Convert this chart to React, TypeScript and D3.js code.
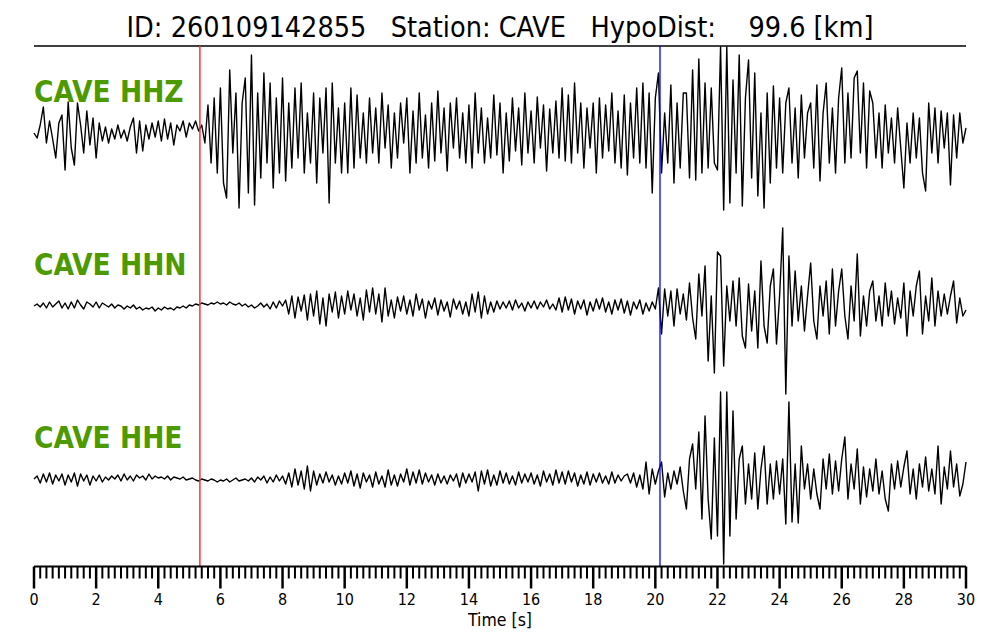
import React from "react";
import * as d3 from "d3";

// ---- data ----
const TITLE = "ID: 260109142855   Station: CAVE   HypoDist:    99.6 [km]";
const STATION = "CAVE";
const CHANNELS = ["HHZ", "HHN", "HHE"];
const SAMPLE_INTERVAL = 0.1; // s
const P_PICK = 5.34; // s
const S_PICK = 20.15; // s
const X_DOMAIN = [0, 30];
const MAJOR_TICKS = [0, 2, 4, 6, 8, 10, 12, 14, 16, 18, 20, 22, 24, 26, 28, 30];
const X_LABEL = "Time [s]";

// amplitudes (counts, normalised), one sample per 0.1 s
const HHZ = [
  0, -5, 8, 26, -10, 12, -6, -25, 10, 18,
  -37, 31, -15, -32, 30, 8, -20, 22, -12, 15,
  -25, 10, -8, 6, -10, 4, -6, 8, -5, 3,
  -8, 6, 15, -20, 12, -18, 8, -6, 10, -4,
  12, -8, 14, -6, 10, -12, 8, 2, 12, -4,
  10, 4, 12, 2, 8, -10, 28, -30, 35, -40,
  45, -50, -65, 63, -20, 40, -75, 30, 55, -60,
  78, -72, 40, -45, 60, -30, 50, -55, 35, -40,
  55, -48, 30, -35, 45, -25, 50, -40, 20, -30,
  40, -50, 35, -20, 45, -70, 50, -30, 25, -40,
  30, -40, 45, -35, 38, -25, 20, -30, 35, -20,
  25, -30, 40, -15, 28, -35, 20, -25, 30, -10,
  35, -40, 22, -30, 40, -25, 18, -35, 30, -28,
  42, -20, 25, -38, 30, -15, 35, -25, 20, -30,
  28, -35, 40, -20, 25, -30, 15, -25, 38, -22,
  30, -40, 20, -28, 35, -18, 25, -32, 40, -20,
  22, -30, 36, -15, 28, -38, 24, -20, 32, -25,
  45, -28, 38, -30, 50, -20, 30, -35, 25, -15,
  30, -40, 35, -25, 28, -18, 40, -30, 22, -35,
  38, -42, 30, -25, 45, -30, 50, -35, 40, -60,
  35, 60, -40, 20, -30, 48, -50, 30, -35, 40,
  40, -45, 63, -47, 74, -40, 50, -35, 45, -30,
  -37, 86, -77, 86, -70, 53, -40, 78, -73, 35,
  73, -45, 60, -63, 20, -75, 40, -50, 47, -35,
  35, -40, 30, 45, -30, 25, -45, 38, -25, 20,
  30, -35, 48, -48, 20, 50, -30, 25, -40, 35,
  65, -30, 40, -25, 55, 62, -20, 50, -35, 42,
  30, -25, 20, -35, 28, -20, 15, -30, 25, -15,
  -55, 10, -30, 20, -25, 15, -40, -58, 30, -20,
  25, -30, 22, -15, 20, -52, 18, -25, 20, -10,
  5,
];

const HHN = [
  0, 2, -1, 3, -2, 4, -1, 2, 5, -2,
  3, -3, 4, -2, 6, 1, -3, 4, 2, -1,
  4, -2, 3, 1, -1, 2, -2, 1, 0, -3,
  0, -2, 1, -3, -1, -4, -2, -3, -1, -5,
  -2, -4, -1, -3, -2, -4, -1, -2, 0, -2,
  1, 0, 2, 1, 3, 2, 1, 3, 2, 4,
  2, 3, 1, 4, 2, 1, 3, 0, 2, -1,
  1, -2, 0, 3, -1, 2, -3, 4, -2, 5,
  0, 6, -8, 10, -12, 9, -5, 11, -14, 12,
  -10, 15, -18, 8, -20, 12, -6, 14, -12, 10,
  -8, 15, -4, 12, -10, 8, -14, 16, -6, 18,
  -8, 12, -16, 18, -10, 6, -12, 9, -5, 10,
  -8, 6, -10, 12, -4, 7, -12, 5, -3, 8,
  -9, 6, -5, 4, -11, 7, -3, 5, -8, 4,
  -10, 12, -6, 14, -12, 10, -8, 4, -6, 5,
  -3, 4, -2, 5, -4, 6, -2, 3, -5, 4,
  -2, 5, -3, 4, -1, 6, -3, 2, -4, 8,
  -6, 9, -4, 7, -8, 5, -3, 6, -9, 4,
  -5, 7, -3, 8, -6, 4, -8, 6, -4, 7,
  -7, 5, -9, 4, -3, 6, -8, 3, -5, 4,
  -3, 18, -28, 17, -10, 15, -20, 17, -8, 12,
  -14, 23, -12, -33, 32, -10, 40, -55, 10, -67,
  54, 50, -60, 20, -15, 25, -20, 28, -30, -42,
  22, -25, 15, -42, 45, -20, -37, 20, 37, -38,
  10, 78, -88, 50, -20, 35, -15, 20, -25, 10,
  43, -15, -33, 20, -10, 25, -28, 37, -20, 15,
  37, -10, -33, 20, -15, 52, -30, 10, -20, 15,
  25, -15, 10, -20, 23, -10, 15, -18, 8, -12,
  23, -30, 15, -10, 20, 35, -28, 10, -15, 28,
  -20, 15, -10, 12, -8, 10, 25, -17, 8, -10,
  -4,
];

const HHE = [
  0, 3, -4, 5, -3, 6, -5, 4, -2, 5,
  -6, 4, -3, 6, -7, 5, -2, 4, -6, 3,
  -2, 4, -3, 2, -1, 3, 0, 4, -2, 5,
  -1, 3, -2, 4, 1, 3, -1, 5, 0, 3,
  1, 2, 0, 3, -1, 2, 1, 0, 2, -1,
  0, 1, -1, -2, 0, -1, -2, 0, -1, -3,
  -1, -2, 0, -3, -1, 1, -2, -1, 0, -2,
  1, -3, 2, -1, 3, -4, 2, -3, 4, -2,
  3, -5, 6, -8, 10, -6, 8, -10, 13, -12,
  8, -6, 5, -4, 7, -3, 4, -6, 3, -5,
  6, -4, 8, -7, 5, -9, 6, -3, 4, -8,
  7, -5, 3, -8, 9, -6, 4, -7, 5, -3,
  10, -6, 7, -4, 9, -5, 6, -3, 4, -6,
  5, -4, 3, -5, 4, -2, 5, -8, 6, -4,
  5, -3, 7, -12, 8, -5, 9, -7, 4, -6,
  8, -4, 6, -5, 3, -6, 7, -4, 5, -3,
  6, -5, 4, -7, 8, -3, 5, -6, 9, -4,
  7, -5, 8, -3, 6, -7, 4, -5, 7, -6,
  5, -3, 6, -4, 3, -5, 7, -4, 4, -2,
  3, 5, -4, 6, -8, 4, -10, 17, -15, 10,
  -5, 8, 17, -18, 6, -10, 8, -5, 12, -12,
  -30, 20, 35, -10, 47, -40, 63, -20, -60, 41,
  -57, 87, -85, 87, -57, 68, -40, 20, 33, -25,
  15, -20, 26, -30, 10, 33, -25, 15, -20, 18,
  -15, 20, -45, 77, -43, 15, -44, 33, -10, 15,
  -20, 10, -15, -30, 20, -10, 25, -15, 18, -12,
  20, 42, -20, 15, -10, 30, -25, 12, -18, 10,
  -12, 20, -15, 8, -20, -32, 15, -10, 18, -8,
  12, 28, -15, 10, -20, 15, -8, 22, -12, 10,
  -15, 33, -25, 12, -10, 28, -8, 15, -17, -5,
  17,
];

const TRACES = [HHZ, HHN, HHE];

// ---- layout ----
const W = 1000;
const H = 640;
const LEFT = 34;
const RIGHT = 966;
const TOP_LINE = 46;
const AXIS_Y = 566.5;
const FONT = "'DejaVu Sans Condensed', 'DejaVu Sans', sans-serif";
const GREEN = "#4c9a00";

export default function App() {
  const x = d3.scaleLinear().domain(X_DOMAIN).range([LEFT, RIGHT]);
  const center = d3.scalePoint<string>().domain(CHANNELS).range([133, 479]);
  const minorTicks = x.ticks(150).filter((t) => Math.abs(t / 2 - Math.round(t / 2)) > 1e-6);

  return (
    <svg
      width={W}
      height={H}
      style={{ position: "absolute", left: 0, top: 0, background: "#fff" }}
      fontFamily={FONT}
    >
      <text
        x={500}
        y={37}
        textAnchor="middle"
        fontSize={28.5}
        fontStretch="condensed"
        style={{ whiteSpace: "pre" }}
        fill="#000"
      >
        {TITLE}
      </text>
      <line x1={LEFT} x2={RIGHT} y1={TOP_LINE} y2={TOP_LINE} stroke="#000" strokeWidth={1.5} />

      {CHANNELS.map((ch, i) => {
        const c = center(ch)!;
        const y = d3.scaleLinear().domain([-100, 100]).range([c + 100, c - 100]);
        const line = d3
          .line<number>()
          .x((_, j) => x(j * SAMPLE_INTERVAL))
          .y((v) => y(v));
        return (
          <g key={ch}>
            <path d={line(TRACES[i]) || ""} fill="none" stroke="#000" strokeWidth={1.4} strokeLinejoin="round" />
            <text
              x={LEFT}
              y={c - 31}
              fontSize={29.5}
              fontWeight="bold"
              fontStretch="condensed"
              fill={GREEN}
            >
              {`${STATION} ${ch}`}
            </text>
          </g>
        );
      })}

      <line x1={x(P_PICK)} x2={x(P_PICK)} y1={TOP_LINE} y2={AXIS_Y} stroke="#ff3030" strokeWidth={1.5} />
      <line x1={x(S_PICK)} x2={x(S_PICK)} y1={TOP_LINE} y2={AXIS_Y} stroke="#0000ff" strokeWidth={1.3} />

      <g>
        <line x1={LEFT} x2={RIGHT} y1={AXIS_Y} y2={AXIS_Y} stroke="#000" strokeWidth={2} />
        {minorTicks.map((t) => (
          <line key={"m" + t} x1={x(t)} x2={x(t)} y1={AXIS_Y} y2={AXIS_Y + 12} stroke="#000" strokeWidth={2} />
        ))}
        {MAJOR_TICKS.map((t) => (
          <g key={"M" + t}>
            <line x1={x(t)} x2={x(t)} y1={AXIS_Y} y2={AXIS_Y + 22} stroke="#000" strokeWidth={2.5} />
            <text x={x(t)} y={605} textAnchor="middle" fontSize={16} fontStretch="condensed" fill="#000">
              {t}
            </text>
          </g>
        ))}
        <text x={500} y={626} textAnchor="middle" fontSize={17.5} fontStretch="condensed" fill="#000">
          {X_LABEL}
        </text>
      </g>
    </svg>
  );
}
